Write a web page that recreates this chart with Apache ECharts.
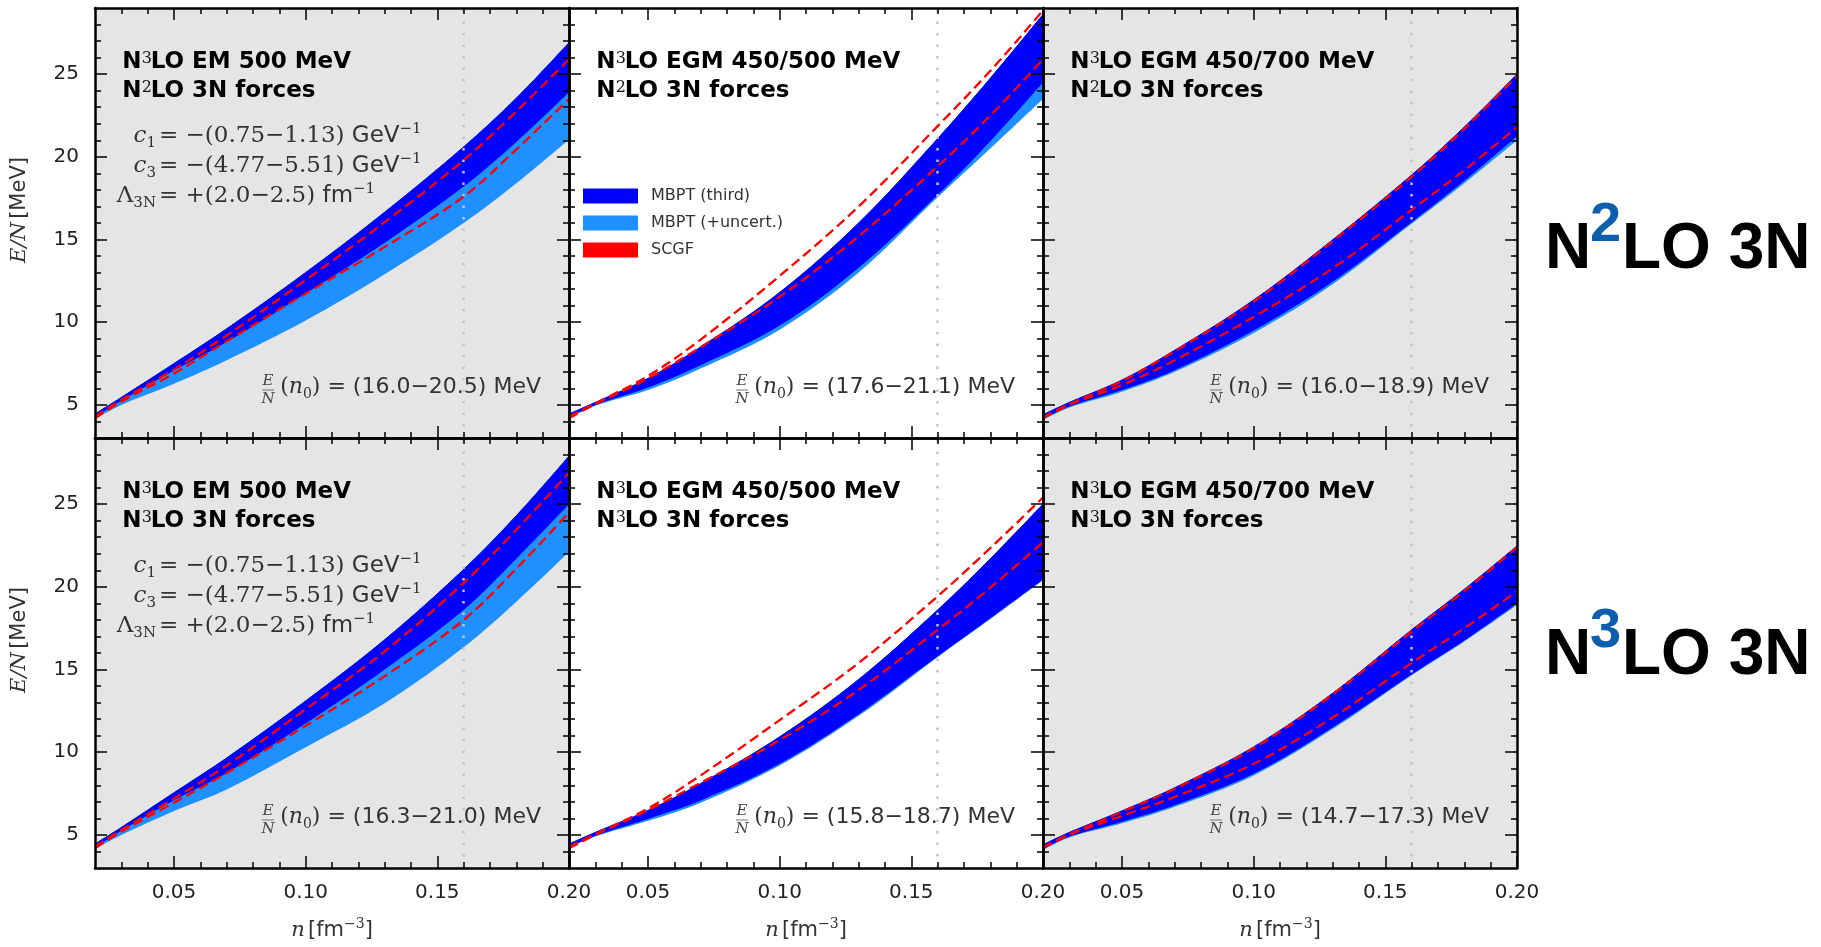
<!DOCTYPE html>
<html>
<head>
<meta charset="utf-8">
<title>Neutron matter E/N: MBPT vs SCGF</title>
<script src="https://cdn.jsdelivr.net/npm/echarts@6/dist/echarts.min.js"></script>
<style>
  html, body { margin: 0; padding: 0; background: #fff; }
  #chart { width: 1821px; height: 947px; }
</style>
</head>
<body>
<div id="chart"></div>
<script>
// density grid n [fm^-3]
const density = [0.02, 0.03, 0.05, 0.07, 0.10, 0.13, 0.16, 0.18, 0.20];

// N3LO EM 500 MeV + N2LO 3N
const emN2DarkHi  = [4.45, 5.45, 7.5, 9.6, 13.0, 16.65, 20.6, 23.55, 26.9];
const emN2DarkLo  = [4.25, 5.25, 7.08, 8.8, 11.74, 14.8, 18.2, 20.9, 23.9];
const emN2LightLo = [4.15, 5.0, 6.28, 7.7, 10.1, 12.9, 16.0, 18.4, 21.05];
const emN2ScgfHi  = [4.3, 5.3, 7.15, 9.2, 12.55, 16.05, 19.8, 22.75, 25.9];
const emN2ScgfLo  = [4.2, 5.2, 6.9, 8.85, 11.74, 14.55, 17.6, 20.45, 23.5];

// N3LO EGM 450/500 MeV + N2LO 3N
const egm500N2DarkHi  = [4.45, 5.15, 6.6, 8.5, 11.8, 16.0, 21.1, 24.75, 28.6];
const egm500N2DarkLo  = [4.25, 5.0, 6.05, 7.4, 9.8, 13.3, 17.7, 20.95, 24.5];
const egm500N2LightLo = [4.2, 4.95, 5.9, 7.2, 9.55, 13.0, 17.55, 20.5, 23.5];
const egm500N2ScgfHi  = [4.3, 5.1, 6.75, 8.95, 12.8, 17.0, 21.86, 25.2, 28.85];
const egm500N2ScgfLo  = [4.2, 5.05, 6.6, 8.5, 11.54, 15.2, 19.43, 22.5, 25.9];

// N3LO EGM 450/700 MeV + N2LO 3N
const egm700N2DarkHi  = [4.4, 5.15, 6.5, 8.3, 11.34, 14.98, 18.9, 21.8, 25.0];
const egm700N2DarkLo  = [4.15, 4.9, 5.9, 7.1, 9.5, 12.45, 16.05, 18.55, 21.25];
const egm700N2LightLo = [4.1, 4.85, 5.8, 7.0, 9.35, 12.3, 15.95, 18.4, 21.0];
const egm700N2ScgfHi  = [4.25, 5.05, 6.45, 8.25, 11.25, 14.9, 18.8, 21.7, 24.9];
const egm700N2ScgfLo  = [4.2, 5.0, 6.2, 7.7, 10.32, 13.26, 16.8, 19.2, 21.8];

// N3LO EM 500 MeV + N3LO 3N
const emN3DarkHi  = [4.45, 5.45, 7.55, 9.65, 13.1, 16.8, 21.05, 24.3, 27.9];
const emN3DarkLo  = [4.25, 5.25, 7.1, 8.75, 11.74, 15.0, 18.6, 21.7, 25.0];
const emN3LightLo = [4.15, 5.0, 6.45, 7.75, 10.3, 12.96, 16.35, 19.1, 22.1];
const emN3ScgfHi  = [4.3, 5.3, 7.2, 9.2, 12.6, 16.1, 20.24, 23.45, 26.9];
const emN3ScgfLo  = [4.2, 5.2, 6.95, 8.75, 11.6, 14.6, 18.0, 21.1, 24.5];

// N3LO EGM 450/500 MeV + N3LO 3N
const egm500N3DarkHi  = [4.45, 5.15, 6.48, 8.1, 10.93, 14.4, 18.6, 21.7, 25.0];
const egm500N3DarkLo  = [4.25, 4.95, 5.97, 7.08, 9.3, 12.3, 15.8, 18.1, 20.45];
const egm500N3LightLo = [4.2, 4.9, 5.85, 6.95, 9.2, 12.2, 15.75, 18.05, 20.4];
const egm500N3ScgfHi  = [4.3, 5.05, 6.6, 8.6, 11.94, 15.4, 19.43, 22.35, 25.4];
const egm500N3ScgfLo  = [4.2, 5.0, 6.5, 8.15, 10.73, 13.77, 17.4, 19.95, 22.7];

// N3LO EGM 450/700 MeV + N3LO 3N
const egm700N3DarkHi  = [4.4, 5.15, 6.45, 7.85, 10.32, 13.56, 17.4, 19.85, 22.47];
const egm700N3DarkLo  = [4.15, 4.9, 5.8, 6.8, 8.7, 11.5, 14.7, 16.75, 19.0];
const egm700N3LightLo = [4.1, 4.85, 5.7, 6.7, 8.6, 11.4, 14.65, 16.7, 18.9];
const egm700N3ScgfHi  = [4.25, 5.05, 6.4, 7.8, 10.25, 13.5, 17.3, 19.75, 22.4];
const egm700N3ScgfLo  = [4.2, 5.0, 6.15, 7.3, 9.3, 12.1, 15.4, 17.5, 19.74];

const potentialNames = ['EM 500 MeV', 'EGM 450/500 MeV', 'EGM 450/700 MeV'];
const threeBodyOrders = ['2', '3'];
const n0Ranges = ['(16.0\u221220.5)', '(17.6\u221221.1)', '(16.0\u221218.9)',
                  '(16.3\u221221.0)', '(15.8\u221218.7)', '(14.7\u221217.3)'];
const lecLhs = ['{i|c}{sb|1}', '{i|c}{sb|3}', '{r|\u039b}{sb|3N}'];
const lecRhs = ['{r|= \u2212(0.75\u22121.13) }{s|GeV}{sp|\u22121}',
                '{r|= \u2212(4.77\u22125.51) }{s|GeV}{sp|\u22121}',
                '{r|= +(2.0\u22122.5) }{s|fm}{sp|\u22121}'];
const rowLabels = ['2', '3'];

const majorX = [0.05, 0.10, 0.15, 0.20];
const minorX = [0.03, 0.04, 0.06, 0.07, 0.08, 0.09, 0.11, 0.12, 0.13, 0.14, 0.16, 0.17, 0.18, 0.19];
const majorY = [5, 10, 15, 20, 25];
const minorY = [4, 6, 7, 8, 9, 11, 12, 13, 14, 16, 17, 18, 19, 21, 22, 23, 24, 26, 27, 28];

const panels = [
  [emN2DarkHi, emN2DarkLo, emN2LightLo, emN2ScgfHi, emN2ScgfLo],
  [egm500N2DarkHi, egm500N2DarkLo, egm500N2LightLo, egm500N2ScgfHi, egm500N2ScgfLo],
  [egm700N2DarkHi, egm700N2DarkLo, egm700N2LightLo, egm700N2ScgfHi, egm700N2ScgfLo],
  [emN3DarkHi, emN3DarkLo, emN3LightLo, emN3ScgfHi, emN3ScgfLo],
  [egm500N3DarkHi, egm500N3DarkLo, egm500N3LightLo, egm500N3ScgfHi, egm500N3ScgfLo],
  [egm700N3DarkHi, egm700N3DarkLo, egm700N3LightLo, egm700N3ScgfHi, egm700N3ScgfLo],
];

const gridLeft = [95, 569, 1043];
const gridTop = [8, 438];
const gridWidth = 474;
const gridHeight = 430;

const darkBlue = '#0000ff';
const lightBlue = '#1e90ff';
const scgfRed = '#ff0000';
const panelGray = '#e5e5e5';

const sans = 'DejaVu Sans';
const serif = 'DejaVu Serif';

function pairs(ys) {
  return density.map((x, i) => [x, ys[i]]);
}
// stacked rows keep the energy first so the stack runs along y
function stackRows(ys) {
  return density.map((x, i) => [+ys[i].toFixed(3), x]);
}
function diff(hi, lo) {
  return hi.map((v, i) => v - lo[i]);
}

function mathStyles(size, small, color) {
  const lh = size + 6;
  return {
    i: { fontFamily: serif, fontStyle: 'italic', fontSize: size, lineHeight: lh, color },
    r: { fontFamily: serif, fontSize: size, lineHeight: lh, color },
    s: { fontFamily: sans, fontSize: size, lineHeight: lh, color },
    sb: { fontFamily: serif, fontSize: small, lineHeight: small, verticalAlign: 'bottom', color },
    sp: { fontFamily: serif, fontSize: small, lineHeight: small, verticalAlign: 'top', color },
  };
}
// graphic text tokens take fill instead of color
function forGraphic(rich) {
  const out = {};
  Object.keys(rich).forEach(k => {
    const { color, ...rest } = rich[k];
    out[k] = { ...rest, fill: color };
  });
  return out;
}
const axisNameRich = mathStyles(21, 14, '#333');
const lecRich = forGraphic(mathStyles(23, 15, '#333'));
const n0Rich = forGraphic(mathStyles(22, 14, '#333'));

function axisX(g, position, ticks, len, showLine, showLabel, withName) {
  return {
    gridIndex: g, type: 'value', min: 0.02, max: 0.20, position, z: 10,
    axisLine: { show: showLine, onZero: false, lineStyle: { color: '#000', width: 2.5 } },
    axisTick: { show: true, inside: true, length: len, customValues: ticks, lineStyle: { color: '#000', width: 1.5 } },
    axisLabel: {
      show: showLabel, customValues: majorX, margin: 15, fontSize: 20, fontFamily: sans, color: '#222',
      formatter: v => v.toFixed(2),
    },
    splitLine: { show: false },
    name: withName ? '{i|n} {s|[fm}{sp|\u22123}{s|]}' : '',
    nameLocation: 'middle', nameGap: 49,
    nameTextStyle: { rich: axisNameRich },
  };
}

function axisY(g, position, ticks, len, showLine, showLabel, withName) {
  return {
    gridIndex: g, type: 'value', min: 3, max: 29, position, z: 10,
    axisLine: { show: showLine, onZero: false, lineStyle: { color: '#000', width: 2.5 } },
    axisTick: { show: true, inside: true, length: len, customValues: ticks, lineStyle: { color: '#000', width: 1.5 } },
    axisLabel: {
      show: showLabel, customValues: majorY, margin: 16, fontSize: 20, fontFamily: sans, color: '#222',
      formatter: v => String(v),
    },
    splitLine: { show: false },
    name: withName ? '{i|E/N} {s|[MeV]}' : '',
    nameLocation: 'middle', nameGap: 62,
    nameTextStyle: { rich: axisNameRich, padding: [0, 0, 0, 26] },
  };
}

const grids = [];
const xAxes = [];
const yAxes = [];
const series = [];
const graphics = [];

function text(x, y, str, style) {
  graphics.push({
    type: 'text', x, y, silent: true, z: 20,
    style: Object.assign({ text: str, verticalAlign: 'middle', textVerticalAlign: 'middle' }, style),
  });
}

panels.forEach((p, g) => {
  const row = Math.floor(g / 3);
  const col = g % 3;
  const L = gridLeft[col];
  const T = gridTop[row];
  const [darkHi, darkLo, lightLo, scgfHi, scgfLo] = p;

  grids.push({
    left: L, top: T, width: gridWidth, height: gridHeight,
    show: true, backgroundColor: col === 1 ? '#ffffff' : panelGray, borderWidth: 0, z: 0,
  });

  xAxes.push(axisX(g, 'bottom', majorX, 12, true, row === 1, row === 1));
  xAxes.push(axisX(g, 'bottom', minorX, 6, false, false, false));
  xAxes.push(axisX(g, 'top', majorX, 12, true, false, false));
  xAxes.push(axisX(g, 'top', minorX, 6, false, false, false));
  yAxes.push(axisY(g, 'left', majorY, 12, true, col === 0, col === 0));
  yAxes.push(axisY(g, 'left', minorY, 6, false, false, false));
  yAxes.push(axisY(g, 'right', majorY, 12, true, false, false));
  yAxes.push(axisY(g, 'right', minorY, 6, false, false, false));

  const common = {
    type: 'line', xAxisIndex: 4 * g, yAxisIndex: 4 * g, symbol: 'none', showSymbol: false,
    smooth: 0.35, silent: true, animation: false,
  };
  const band = { ...common, encode: { x: 1, y: 0 } };
  const hidden = { width: 0, color: 'rgba(0,0,0,0)' };

  series.push({ ...band, name: 'uncertBase' + g, stack: 'light' + g, data: stackRows(lightLo), lineStyle: hidden, z: 2 });
  series.push({
    ...band, name: 'MBPT (+uncert.)', stack: 'light' + g, data: stackRows(diff(darkHi, lightLo)),
    lineStyle: { width: 1, color: lightBlue }, itemStyle: { color: lightBlue },
    areaStyle: { color: lightBlue, opacity: 1 }, z: 2,
  });
  series.push({ ...band, name: 'thirdBase' + g, stack: 'dark' + g, data: stackRows(darkLo), lineStyle: hidden, z: 3 });
  series.push({
    ...band, name: 'MBPT (third)', stack: 'dark' + g, data: stackRows(diff(darkHi, darkLo)),
    lineStyle: { width: 1, color: darkBlue }, itemStyle: { color: darkBlue },
    areaStyle: { color: darkBlue, opacity: 1 }, z: 3,
  });
  series.push({
    ...common, name: 'SCGF', data: pairs(scgfHi),
    lineStyle: { color: scgfRed, width: 2.3, type: [10, 5] }, itemStyle: { color: scgfRed }, z: 5,
    markLine: {
      silent: true, symbol: ['none', 'none'], animation: false, label: { show: false },
      lineStyle: { color: '#c4c4c4', width: 2.5, type: [2.5, 9] },
      data: [{ xAxis: 0.16 }],
    },
  });
  series.push({
    ...common, name: 'SCGF', data: pairs(scgfLo),
    lineStyle: { color: scgfRed, width: 2.3, type: [10, 5] }, itemStyle: { color: scgfRed }, z: 5,
  });

  // panel title
  const bold = { fontFamily: sans, fontWeight: 'bold', fontSize: 23, fill: '#000' };
  const sup = { fontFamily: serif, fontSize: 16, fill: '#111' };
  text(L + 27.3, T + 54, 'N', bold);
  text(L + 46.7, T + 50.5, '3', sup);
  text(L + 55.7, T + 54, 'LO ' + potentialNames[col], bold);
  text(L + 27.3, T + 83.5, 'N', bold);
  text(L + 46.7, T + 80, threeBodyOrders[row], sup);
  text(L + 55.7, T + 83.5, 'LO 3N forces', bold);

  // low-energy constants (EM 500 column)
  if (col === 0) {
    lecLhs.forEach((lhs, k) => {
      const y = T + 128 + 30 * k;
      text(L + 61, y, lhs, { align: 'right', textAlign: 'right', rich: lecRich });
      text(L + 64, y, lecRhs[k], { align: 'left', textAlign: 'left', rich: lecRich });
    });
  }

  // energy per particle at saturation density
  const fx = L + 173;
  const frac = { fontFamily: serif, fontStyle: 'italic', fontSize: 15, fill: '#444', align: 'center', textAlign: 'center' };
  text(fx, T + 373, 'E', frac);
  text(fx, T + 391, 'N', frac);
  graphics.push({
    type: 'line', silent: true, z: 20,
    shape: { x1: fx - 6, y1: T + 382, x2: fx + 6, y2: T + 382 },
    style: { stroke: '#777', lineWidth: 1 },
  });
  text(L + 446, T + 379, '{r|(}{i|n}{sb|0}{r|) = }{s|' + n0Ranges[g] + ' MeV}', { align: 'right', textAlign: 'right', rich: n0Rich });
});

// row labels on the right
const bigFont = { fontFamily: 'Liberation Sans', fontWeight: 'bold', fontSize: 64, fill: '#000' };
const supFont = { fontFamily: 'Liberation Sans', fontWeight: 'bold', fontSize: 56, fill: '#0d5fae' };
[250, 656].forEach((yc, r) => {
  text(1545, yc, 'N', bigFont);
  text(1590, yc - 24.5, rowLabels[r], supFont);
  text(1622, yc, 'LO 3N', bigFont);
});

const chart = echarts.init(document.getElementById('chart'));
chart.setOption({
  animation: false,
  backgroundColor: '#ffffff',
  grid: grids,
  xAxis: xAxes,
  yAxis: yAxes,
  legend: {
    data: ['MBPT (third)', 'MBPT (+uncert.)', 'SCGF'],
    orient: 'vertical', left: 583, top: 188, padding: 0,
    icon: 'rect', itemWidth: 55, itemHeight: 15, itemGap: 11,
    selectedMode: false, z: 15,
    itemStyle: { borderWidth: 0 },
    lineStyle: { width: 0 },
    textStyle: { fontSize: 16, fontFamily: sans, color: '#333', padding: [0, 0, 0, 8] },
  },
  series,
  graphic: graphics,
});
</script>
</body>
</html>
